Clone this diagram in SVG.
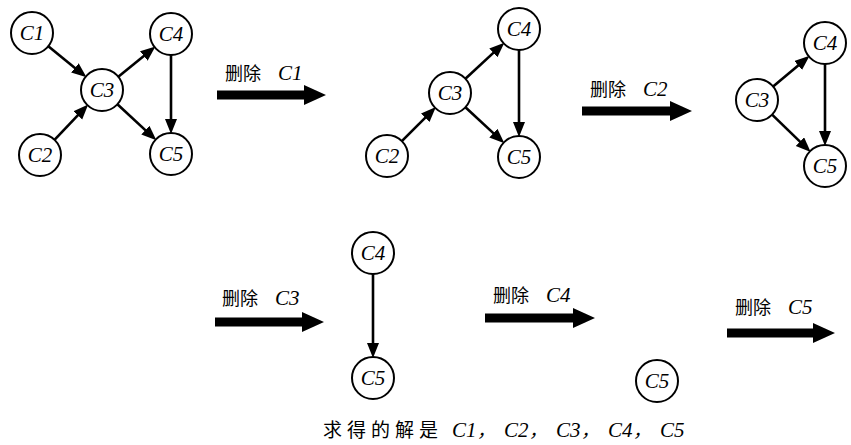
<svg xmlns="http://www.w3.org/2000/svg" width="851" height="445" viewBox="0 0 851 445">
<defs>
<marker id="ah" markerUnits="userSpaceOnUse" markerWidth="17" markerHeight="13" refX="4" refY="6" orient="auto">
<path d="M0,0 L15,6 L0,12 z" fill="#000"/>
</marker>
<style>
.nd circle{fill:#fff;stroke:#000;stroke-width:2}
.nl{font-family:"Liberation Serif","Times New Roman",serif;font-style:italic;font-size:21px;text-anchor:middle;fill:#000}
.edge{stroke:#000;stroke-width:2.6;fill:none;marker-end:url(#ah)}
.big{fill:#000}
.cjk{font-family:"Noto Sans CJK SC",sans-serif;font-size:18px;fill:#000}
.lat{font-family:"Liberation Serif","Times New Roman",serif;font-style:italic;font-size:21px;fill:#000}
</style>
</defs>
<rect width="851" height="445" fill="#fff"/>

<g id="connectors">
<line class="edge" x1="48.3" y1="46.3" x2="78" y2="70.4"/>
<line class="edge" x1="54.5" y1="139.8" x2="80.6" y2="112.4"/>
<line class="edge" x1="118.3" y1="76.8" x2="146.9" y2="53.5"/>
<line class="edge" x1="117.4" y1="104.3" x2="148.3" y2="132.9"/>
<line class="edge" x1="171" y1="55" x2="171" y2="123"/>
<line class="edge" x1="401.8" y1="141.2" x2="428.1" y2="114.9"/>
<line class="edge" x1="465.4" y1="78.7" x2="496.3" y2="50.1"/>
<line class="edge" x1="465.4" y1="107.3" x2="496.3" y2="135.9"/>
<line class="edge" x1="519" y1="50" x2="519" y2="126"/>
<line class="edge" x1="773.1" y1="86.5" x2="801.2" y2="62.9"/>
<line class="edge" x1="772.1" y1="114.6" x2="802.8" y2="144.4"/>
<line class="edge" x1="825" y1="64" x2="825" y2="135"/>
<line class="edge" x1="373" y1="274" x2="373" y2="347"/>
<polygon class="big" points="217,90.5 304,90.5 304,85 326,95 304,105 304,99.5 217,99.5"/>
<polygon class="big" points="582,106.5 670,106.5 670,101 692,111 670,121 670,115.5 582,115.5"/>
<polygon class="big" points="215,317.5 302,317.5 302,312 324,322 302,332 302,326.5 215,326.5"/>
<polygon class="big" points="485,313.5 573,313.5 573,308 595,318 573,328 573,322.5 485,322.5"/>
<polygon class="big" points="727,328.5 813,328.5 813,323 835,333 813,343 813,337.5 727,337.5"/>
</g>

<g id="labels">
<text class="cjk" x="225" y="80">删除<tspan class="lat" x="278">C1</tspan></text>
<text class="cjk" x="590" y="96">删除<tspan class="lat" x="643">C2</tspan></text>
<text class="cjk" x="222" y="305">删除<tspan class="lat" x="275">C3</tspan></text>
<text class="cjk" x="493" y="302">删除<tspan class="lat" x="546">C4</tspan></text>
<text class="cjk" x="735" y="314">删除<tspan class="lat" x="788">C5</tspan></text>
</g>

<g id="g1-C1" class="nd"><circle cx="32" cy="33" r="21"/><text class="nl" x="32" y="40">C1</text></g>
<g id="g1-C2" class="nd"><circle cx="40" cy="155" r="21"/><text class="nl" x="40" y="162">C2</text></g>
<g id="g1-C3" class="nd"><circle cx="102" cy="90" r="21"/><text class="nl" x="102" y="97">C3</text></g>
<g id="g1-C4" class="nd"><circle cx="171" cy="34" r="21"/><text class="nl" x="171" y="41">C4</text></g>
<g id="g1-C5" class="nd"><circle cx="171" cy="154" r="21"/><text class="nl" x="171" y="161">C5</text></g>

<g id="g2-C2" class="nd"><circle cx="387" cy="156" r="21"/><text class="nl" x="387" y="163">C2</text></g>
<g id="g2-C3" class="nd"><circle cx="450" cy="93" r="21"/><text class="nl" x="450" y="100">C3</text></g>
<g id="g2-C4" class="nd"><circle cx="519" cy="29" r="21"/><text class="nl" x="519" y="36">C4</text></g>
<g id="g2-C5" class="nd"><circle cx="519" cy="157" r="21"/><text class="nl" x="519" y="164">C5</text></g>

<g id="g3-C3" class="nd"><circle cx="757" cy="100" r="21"/><text class="nl" x="757" y="107">C3</text></g>
<g id="g3-C4" class="nd"><circle cx="825" cy="43" r="21"/><text class="nl" x="825" y="50">C4</text></g>
<g id="g3-C5" class="nd"><circle cx="825" cy="166" r="21"/><text class="nl" x="825" y="173">C5</text></g>

<g id="g4-C4" class="nd"><circle cx="373" cy="253" r="21"/><text class="nl" x="373" y="260">C4</text></g>
<g id="g4-C5" class="nd"><circle cx="373" cy="378" r="21"/><text class="nl" x="373" y="385">C5</text></g>

<g id="g5-C5" class="nd"><circle cx="657" cy="381" r="21"/><text class="nl" x="657" y="388">C5</text></g>

<g id="result">
<text class="cjk" x="323" y="437" style="font-size:19px;letter-spacing:5px">求得的解是</text>
<text class="lat" y="437"><tspan x="452">C1</tspan><tspan class="cjk" x="477">，</tspan><tspan x="504">C2</tspan><tspan class="cjk" x="529">，</tspan><tspan x="556">C3</tspan><tspan class="cjk" x="581">，</tspan><tspan x="608">C4</tspan><tspan class="cjk" x="633">，</tspan><tspan x="660">C5</tspan></text>
</g>
</svg>
